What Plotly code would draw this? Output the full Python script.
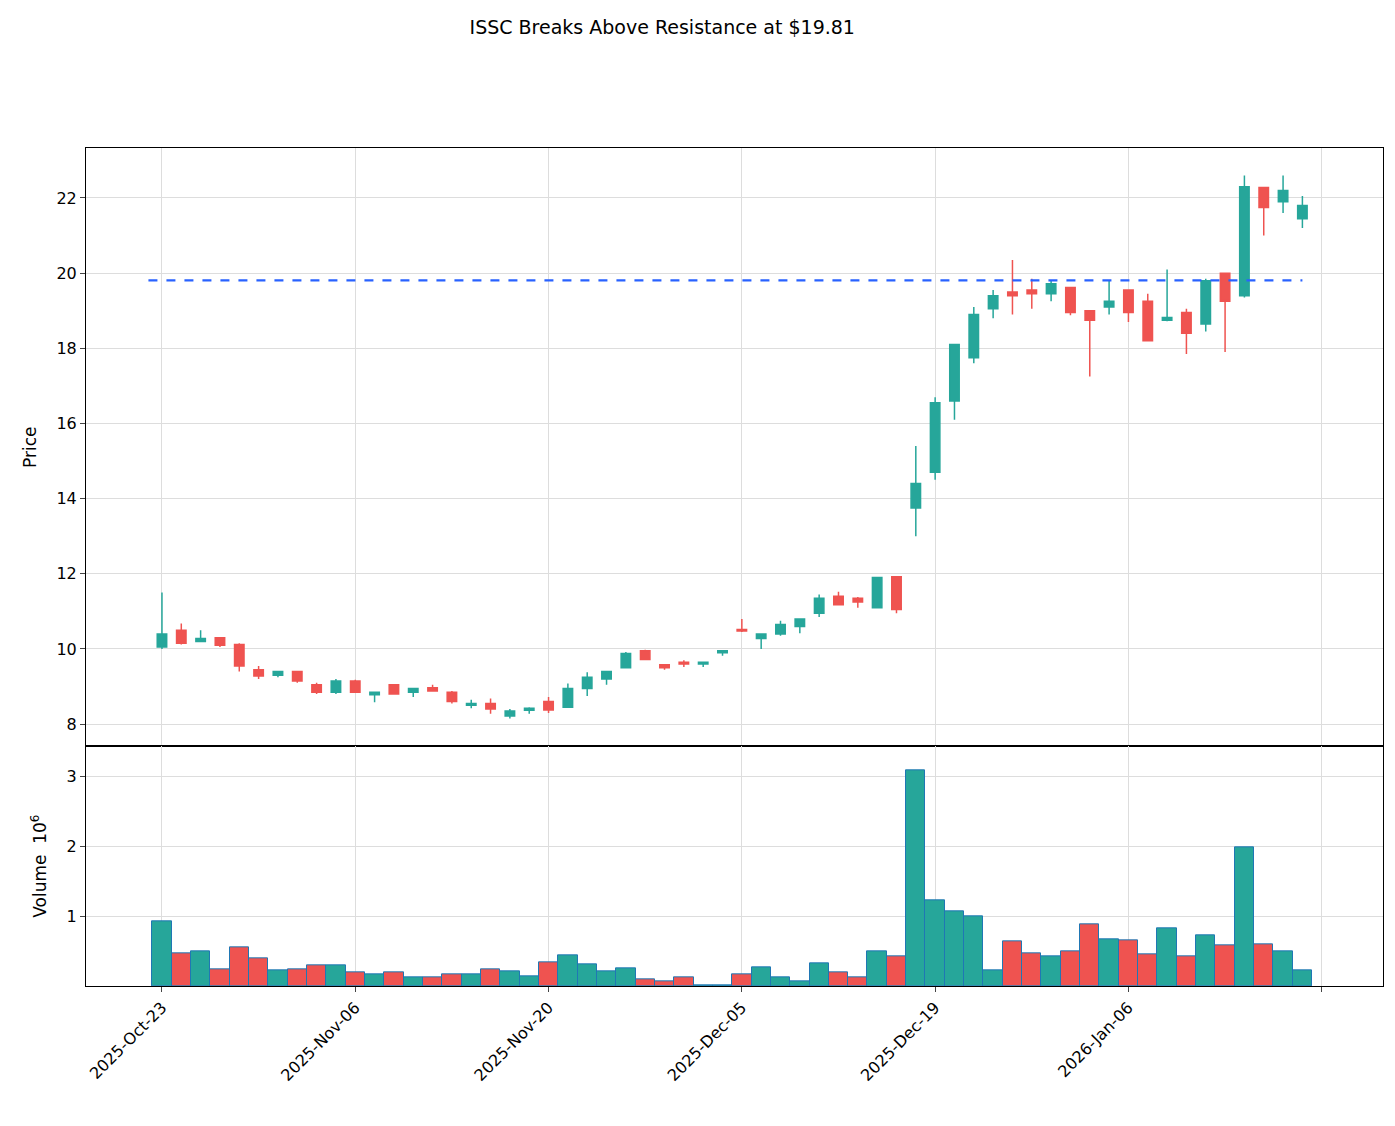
import plotly.graph_objects as go
from plotly.subplots import make_subplots

# trading days (every 10th gets a label)
tick_labels = ['2025-Oct-23', '2025-Nov-06', '2025-Nov-20', '2025-Dec-05', '2025-Dec-19', '2026-Jan-06', '']

opens = [10.05, 10.5, 10.2, 10.3, 10.12, 9.45, 9.3, 9.4, 9.05, 8.85,
         9.15, 8.78, 9.05, 8.85, 8.97, 8.85, 8.5, 8.55, 8.22, 8.37,
         8.6, 8.45, 8.95, 9.2, 9.5, 9.95, 9.58, 9.65, 9.6, 9.9,
         10.52, 10.28, 10.4, 10.6, 10.95, 11.4, 11.35, 11.1, 11.92, 13.75,
         14.7, 16.6, 17.75, 19.05, 19.5, 19.55, 19.45, 19.62, 19.0, 19.1,
         19.55, 19.25, 18.75, 18.95, 18.65, 20.0, 19.4, 22.28, 21.9, 21.45]
highs = [11.5, 10.68, 10.5, 10.3, 10.15, 9.55, 9.42, 9.4, 9.1, 9.2,
         9.18, 8.85, 9.05, 8.95, 9.05, 8.88, 8.65, 8.68, 8.4, 8.45,
         8.72, 9.08, 9.38, 9.42, 9.92, 9.98, 9.58, 9.7, 9.65, 9.95,
         10.8, 10.42, 10.75, 10.8, 11.45, 11.52, 11.38, 11.9, 11.92, 15.4,
         16.7, 18.1, 19.1, 19.55, 20.35, 19.85, 19.8, 19.62, 19.0, 19.8,
         19.55, 19.45, 20.1, 19.05, 19.85, 20.0, 22.6, 22.28, 22.6, 22.05]
lows = [10.0, 10.12, 10.2, 10.05, 9.4, 9.2, 9.25, 9.1, 8.8, 8.8,
        8.85, 8.58, 8.78, 8.72, 8.88, 8.55, 8.42, 8.28, 8.15, 8.28,
        8.3, 8.45, 8.75, 9.05, 9.5, 9.7, 9.45, 9.52, 9.52, 9.82,
        10.45, 10.0, 10.35, 10.42, 10.85, 11.18, 11.1, 11.1, 10.95, 13.0,
        14.5, 16.1, 17.6, 18.8, 18.9, 19.05, 19.25, 18.88, 17.25, 18.9,
        18.7, 18.2, 18.72, 17.85, 18.45, 17.9, 19.35, 21.0, 21.6, 21.2]
closes = [10.4, 10.15, 10.28, 10.1, 9.55, 9.28, 9.4, 9.15, 8.85, 9.15,
          8.85, 8.85, 8.8, 8.95, 8.88, 8.6, 8.55, 8.4, 8.35, 8.42,
          8.38, 8.95, 9.25, 9.4, 9.88, 9.72, 9.5, 9.6, 9.65, 9.95,
          10.48, 10.4, 10.65, 10.8, 11.35, 11.18, 11.25, 11.9, 11.05, 14.4,
          16.55, 18.1, 18.9, 19.4, 19.4, 19.45, 19.72, 18.95, 18.75, 19.25,
          18.95, 18.2, 18.82, 18.4, 19.8, 19.25, 22.3, 21.75, 22.2, 21.8]
volumes = [0.93, 0.47, 0.49, 0.24, 0.56, 0.40, 0.23, 0.24, 0.30, 0.29,
           0.20, 0.17, 0.20, 0.13, 0.13, 0.16, 0.17, 0.24, 0.21, 0.14,
           0.34, 0.44, 0.31, 0.21, 0.26, 0.10, 0.07, 0.13, 0.005, 0.01,
           0.16, 0.27, 0.13, 0.07, 0.33, 0.20, 0.13, 0.50, 0.43, 3.08,
           1.22, 1.07, 1.00, 0.23, 0.64, 0.47, 0.43, 0.49, 0.88, 0.67,
           0.66, 0.46, 0.83, 0.42, 0.73, 0.58, 1.98, 0.59, 0.50, 0.23]
resistance = 19.81

UP = '#26a69a'
DOWN = '#ef5350'

n = len(closes)
x = list(range(n))
vol_colors = [UP if c >= o else DOWN for o, c in zip(opens, closes)]

fig = make_subplots(rows=2, cols=1, shared_xaxes=True, vertical_spacing=0,
                    row_heights=[0.714, 0.286])

fig.add_trace(go.Candlestick(
    x=x, open=opens, high=highs, low=lows, close=closes,
    increasing=dict(line=dict(color=UP, width=1.5), fillcolor=UP),
    decreasing=dict(line=dict(color=DOWN, width=1.5), fillcolor=DOWN),
    whiskerwidth=0, showlegend=False,
), row=1, col=1)

fig.add_trace(go.Scatter(
    x=[-0.7, n - 1], y=[resistance, resistance], mode='lines',
    line=dict(color='#2962ff', width=2.2, dash='dash'), showlegend=False,
), row=1, col=1)

fig.add_trace(go.Bar(
    x=x, y=volumes, width=1.0, marker=dict(color=vol_colors, line=dict(color='#1f77b4', width=1)),
    showlegend=False,
), row=2, col=1)

axis_style = dict(showline=True, linecolor='black', mirror=True, ticks='outside',
                  gridcolor='#dddddd', zeroline=False, tickfont=dict(size=16, color='black'))

fig.update_xaxes(range=[-3.93, 63.17], tickvals=list(range(0, 70, 10)), **axis_style)
fig.update_xaxes(rangeslider_visible=False, showticklabels=False, row=1, col=1)
fig.update_xaxes(ticktext=tick_labels, tickangle=-45, row=2, col=1)
fig.update_yaxes(**axis_style)
fig.update_yaxes(range=[7.41, 23.33], tickvals=list(range(8, 24, 2)),
                 title_text='Price', title_font=dict(size=17), row=1, col=1)
fig.update_yaxes(range=[0, 3.43], tickvals=[1, 2, 3],
                 title_text='Volume  10<sup>6</sup>', title_font=dict(size=17), row=2, col=1)

fig.update_layout(
    width=1395, height=1126,
    margin=dict(l=78, r=20, t=140, b=148),
    plot_bgcolor='white', paper_bgcolor='white',
    font=dict(family='DejaVu Sans', color='black'),
    bargap=0,
    title=dict(text='ISSC Breaks Above Resistance at $19.81', x=0.469, xanchor='center',
               y=0.983, yanchor='middle', font=dict(size=19)),
)

fig.write_html('out.html')
